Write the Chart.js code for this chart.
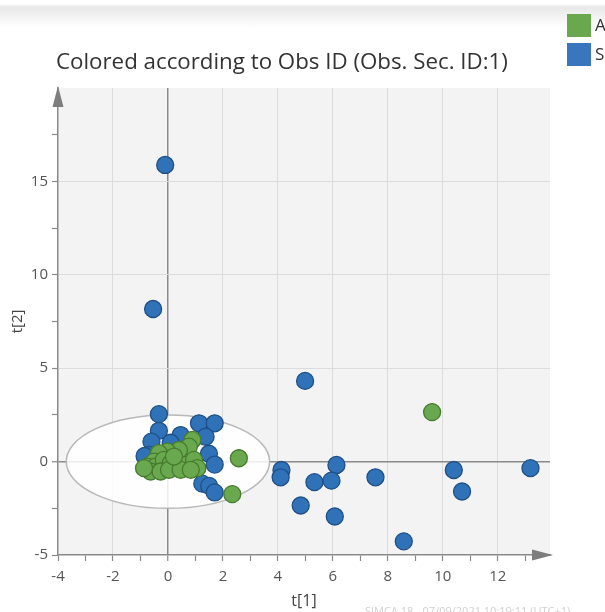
<!DOCTYPE html>
<html>
<head>
<meta charset="utf-8">
<script src="https://cdn.jsdelivr.net/npm/chart.js@4.4.1/dist/chart.umd.min.js"></script>
<style>
  html, body { margin:0; padding:0; background:#fff; }
  body { width:605px; height:612px; overflow:hidden; position:relative; font-family:"Open Sans", "Noto Sans", sans-serif; }
  #band { position:absolute; left:0; top:0; width:605px; height:28px;
          background:linear-gradient(#ffffff 0px, #ffffff 4px, #e8e8e8 7px, #ffffff 28px); }
  #wrap { position:absolute; left:0; top:0; width:605px; height:612px; }
  #title { position:absolute; left:56px; top:46px; font-size:22.3px; line-height:30px; color:#333; white-space:nowrap; }
  .leg { position:absolute; left:567px; width:24px; height:23px; }
  .legt { position:absolute; left:595px; font-size:17px; line-height:20px; color:#333; }
  #foot { position:absolute; left:365px; top:603px; font-size:11px; color:#d0d0d0; white-space:nowrap; }
</style>
</head>
<body>
<div id="band"></div>
<div id="wrap"><canvas id="c" width="605" height="612"></canvas></div>
<div id="title">Colored according to Obs ID (Obs. Sec. ID:1)</div>
<div class="leg" style="top:14px;background:#6aa84f;"></div>
<div class="legt" style="top:15px;">A</div>
<div class="leg" style="top:43px;background:#3a76bd;"></div>
<div class="legt" style="top:44px;">S</div>
<div id="foot">SIMCA 18 - 07/09/2021 10:19:11 (UTC+1)</div>
<script>
// ---- data ----
const seriesNames = ["A", "S"];
const A_x = [0.89, 0.76, 0.40, -0.02, -0.33, -0.51, -0.75, -0.45, -0.15, 0.10, 0.34, 0.64, 0.95, 1.07, -0.63, -0.27, 0.04, 0.46, 0.83, 0.22, -0.87, 2.58, 2.34, 9.61];
const A_y = [1.16, 0.80, 0.62, 0.53, 0.45, 0.00, -0.27, -0.27, 0.09, -0.09, -0.27, -0.18, 0.09, -0.35, -0.53, -0.53, -0.44, -0.44, -0.44, 0.27, -0.35, 0.18, -1.74, 2.65];
const S_x = [-0.10, -0.54, 4.99, 13.19, 10.40, 10.70, 7.55, 8.58, 6.13, 5.95, 5.33, 6.07, 4.83, 4.13, 4.10,
             -0.33, -0.33, -0.60, 0.46, 1.13, 1.70, 1.37, 0.10, -0.69, 1.49, 1.70, 1.25, 1.50, 1.70, -0.85];
const S_y = [15.88, 8.17, 4.32, -0.35, -0.45, -1.60, -0.84, -4.27, -0.18, -1.02, -1.10, -2.94, -2.35, -0.45, -0.84,
             2.54, 1.65, 1.07, 1.42, 2.05, 2.05, 1.33, 1.01, 0.36, 0.42, -0.16, -1.18, -1.30, -1.65, 0.30];
const xTicks = [-4,-3,-2,-1,0,1,2,3,4,5,6,7,8,9,10,11,12,13];
const xLabels = [-4,-2,0,2,4,6,8,10,12];
const yTicks = [-5,-2.5,0,2.5,5,7.5,10,12.5,15,17.5];
const yLabels = [-5,0,5,10,15];
const xRange = [-4, 13.9];
const yRange = [-5, 20];
const ellipse = { cx: 0, cy: 0, a: 3.7, b: 2.5 };

const toPts = (xs, ys) => xs.map((x, i) => ({ x: x, y: ys[i] }));
const AXIS = '#8a8a8a', GRID = '#dcdcdc';
const tickFont = { family: '"Open Sans", "Noto Sans", sans-serif', size: 15 };

const decor = {
  id: 'decor',
  beforeDraw(chart) {
    const { ctx, chartArea: a } = chart;
    ctx.save();
    ctx.fillStyle = '#f3f3f3';
    ctx.fillRect(a.left, a.top, a.right - a.left, a.bottom - a.top);
    ctx.restore();
  },
  beforeDatasetsDraw(chart) {
    const { ctx, scales: { x, y } } = chart;
    const cx = x.getPixelForValue(ellipse.cx), cy = y.getPixelForValue(ellipse.cy);
    const rx = Math.abs(x.getPixelForValue(ellipse.cx + ellipse.a) - cx);
    const ry = Math.abs(y.getPixelForValue(ellipse.cy + ellipse.b) - cy);
    ctx.save();
    ctx.fillStyle = 'rgba(255,255,255,0.85)';
    ctx.strokeStyle = '#b8b8b8';
    ctx.lineWidth = 1.5;
    ctx.beginPath();
    ctx.ellipse(cx, cy, rx, ry, 0, 0, Math.PI * 2);
    ctx.fill();
    ctx.stroke();
    ctx.restore();
  },
  afterDraw(chart) {
    const { ctx, chartArea: a } = chart;
    ctx.save();
    ctx.fillStyle = '#7d7d7d';
    ctx.beginPath();
    ctx.moveTo(a.left, a.top - 2);
    ctx.lineTo(a.left - 5.5, a.top + 19);
    ctx.lineTo(a.left + 5.5, a.top + 19);
    ctx.closePath();
    ctx.fill();
    ctx.beginPath();
    ctx.moveTo(a.right + 3, a.bottom);
    ctx.lineTo(a.right - 18, a.bottom - 5.5);
    ctx.lineTo(a.right - 18, a.bottom + 5.5);
    ctx.closePath();
    ctx.fill();
    ctx.restore();
  }
};

new Chart(document.getElementById('c'), {
  type: 'scatter',
  data: {
    datasets: [
      { label: seriesNames[0], data: toPts(A_x, A_y), backgroundColor: '#6aa84f', borderColor: '#467a2e', borderWidth: 1.3, pointRadius: 8.5, pointHoverRadius: 8.5 },
      { label: seriesNames[1], data: toPts(S_x, S_y), backgroundColor: '#2f72b8', borderColor: '#1f4f86', borderWidth: 1.3, pointRadius: 8.5, pointHoverRadius: 8.5 }
    ]
  },
  options: {
    responsive: false,
    animation: false,
    events: [],
    layout: { padding: { top: 88, right: 55, left: 0, bottom: 0 } },
    plugins: { legend: { display: false }, title: { display: false }, tooltip: { enabled: false } },
    scales: {
      x: {
        type: 'linear', min: xRange[0], max: xRange[1],
        afterBuildTicks: s => { s.ticks = xTicks.map(v => ({ value: v })); },
        afterFit: s => { s.height = 57; },
        ticks: { autoSkip: false, maxRotation: 0, font: tickFont, color: '#555', padding: 7,
                 callback: v => (xLabels.includes(v) ? String(v) : '') },
        grid: {
          color: c => (c.tick && c.tick.value === 0 ? AXIS : (c.tick && xLabels.includes(c.tick.value) && c.tick.value !== -4 ? GRID : 'rgba(0,0,0,0)')),
          lineWidth: c => (c.tick && c.tick.value === 0 ? 1.5 : 1),
          tickColor: AXIS, tickLength: 6, tickWidth: 1.2
        },
        border: { color: AXIS, width: 1.5 },
        title: { display: true, text: 't[1]', color: '#444', font: { family: '"Open Sans", "Noto Sans", sans-serif', size: 16 }, padding: { top: 0, bottom: 1 } }
      },
      y: {
        type: 'linear', min: yRange[0], max: yRange[1],
        afterBuildTicks: s => { s.ticks = yTicks.map(v => ({ value: v })); },
        afterFit: s => { s.width = 58; },
        ticks: { autoSkip: false, font: tickFont, color: '#555', padding: 4,
                 callback: v => (yLabels.includes(v) ? String(v) : '') },
        grid: {
          color: c => (c.tick && c.tick.value === 0 ? AXIS : (c.tick && yLabels.includes(c.tick.value) && c.tick.value !== -5 ? GRID : 'rgba(0,0,0,0)')),
          lineWidth: c => (c.tick && c.tick.value === 0 ? 1.5 : 1),
          tickColor: AXIS, tickLength: 6, tickWidth: 1.2
        },
        border: { color: AXIS, width: 1.5 },
        title: { display: true, text: 't[2]', color: '#444', font: { family: '"Open Sans", "Noto Sans", sans-serif', size: 15 }, padding: { top: 9, bottom: 0 } }
      }
    }
  },
  plugins: [decor]
});
</script>
</body>
</html>
